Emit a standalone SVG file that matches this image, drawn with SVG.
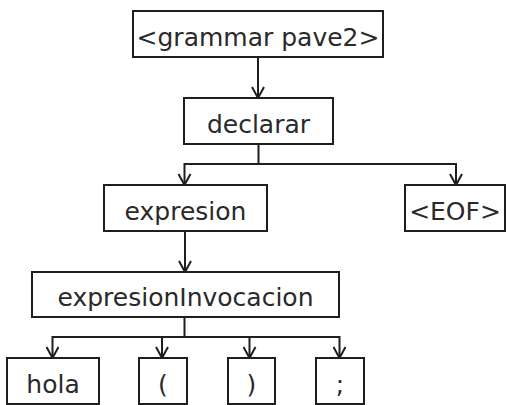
<svg xmlns="http://www.w3.org/2000/svg" width="506" height="405" viewBox="0 0 506 405">
<style>
.box{fill:#ffffff;stroke:#1e1e1e;stroke-width:2}
.lbl{font-family:"DejaVu Sans",sans-serif;font-size:25px;fill:#2a2a2a;text-anchor:middle}
.edge{fill:none;stroke:#1e1e1e;stroke-width:2}
</style>
<defs>
<marker id="arr" markerUnits="userSpaceOnUse" viewBox="-13 -8 15 16" refX="0" refY="0" markerWidth="15" markerHeight="16" orient="auto">
<path d="M-11,-6 L0,0 L-11,6" fill="none" stroke="#1e1e1e" stroke-width="2"/>
</marker>
</defs>
<rect width="506" height="405" fill="#ffffff"/>
<g id="connectors">
<path class="edge" d="M258,57 L258,98" marker-end="url(#arr)"/>
<path class="edge" d="M258.5,144 L258.5,164 L184.5,164 L184.5,185" marker-end="url(#arr)"/>
<path class="edge" d="M258.5,164 L456,164 L456,185" marker-end="url(#arr)"/>
<path class="edge" d="M185,231 L185,272" marker-end="url(#arr)"/>
<path class="edge" d="M184.5,317 L184.5,337 L52.5,337 L52.5,358" marker-end="url(#arr)"/>
<path class="edge" d="M184.5,337 L162,337 L162,358" marker-end="url(#arr)"/>
<path class="edge" d="M184.5,337 L249.5,337 L249.5,358" marker-end="url(#arr)"/>
<path class="edge" d="M249.5,337 L339.5,337 L339.5,358" marker-end="url(#arr)"/>
</g>
<g id="n-grammar">
<rect class="box" x="133" y="11" width="250" height="46"/>
<text class="lbl" x="258" y="46">&lt;grammar pave2&gt;</text>
</g>
<g id="n-declarar">
<rect class="box" x="184" y="98" width="149" height="46"/>
<text class="lbl" x="258.5" y="133">declarar</text>
</g>
<g id="n-expresion">
<rect class="box" x="104" y="185" width="163" height="46"/>
<text class="lbl" x="185.5" y="220">expresion</text>
</g>
<g id="n-eof">
<rect class="box" x="405" y="185" width="100" height="46"/>
<text class="lbl" x="455" y="220">&lt;EOF&gt;</text>
</g>
<g id="n-expresionInvocacion">
<rect class="box" x="32" y="272" width="307" height="45"/>
<text class="lbl" x="185.5" y="306">expresionInvocacion</text>
</g>
<g id="n-hola">
<rect class="box" x="7" y="358" width="92" height="46"/>
<text class="lbl" x="53" y="393">hola</text>
</g>
<g id="n-lparen">
<rect class="box" x="139" y="358" width="48" height="46"/>
<text class="lbl" x="163" y="393">(</text>
</g>
<g id="n-rparen">
<rect class="box" x="228" y="358" width="47" height="46"/>
<text class="lbl" x="251.5" y="393">)</text>
</g>
<g id="n-semi">
<rect class="box" x="316" y="358" width="48" height="46"/>
<text class="lbl" x="340" y="393">;</text>
</g>
</svg>
